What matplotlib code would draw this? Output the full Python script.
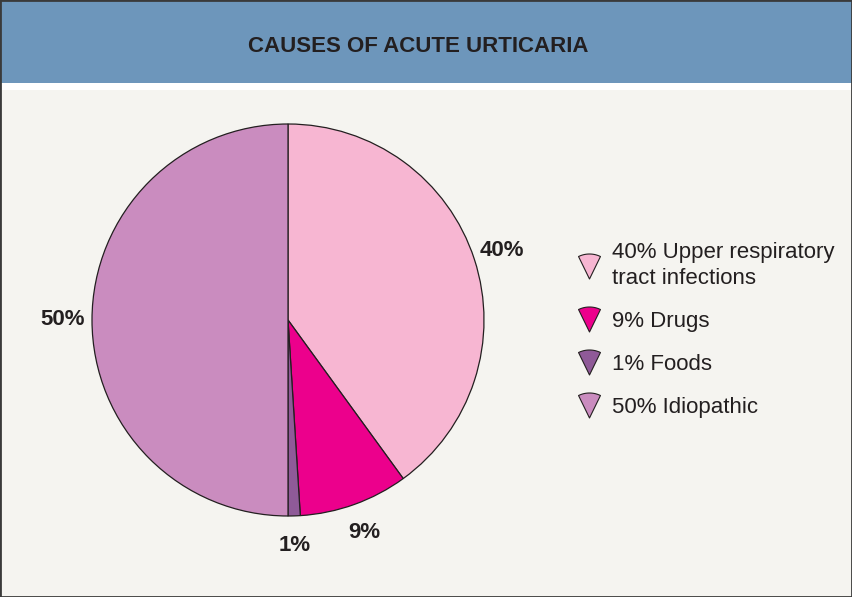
import numpy as np
import matplotlib
matplotlib.use("Agg")
import matplotlib.pyplot as plt
from matplotlib.path import Path
from matplotlib.lines import Line2D
from matplotlib.patches import Rectangle

plt.rcParams['font.family'] = ['Liberation Sans', 'DejaVu Sans']

title = "CAUSES OF ACUTE URTICARIA"
categories = ["Upper respiratory\ntract infections", "Drugs", "Foods", "Idiopathic"]
shares = [40, 9, 1, 50]
colors = ["#f7b6d2", "#ec008c", "#8f5a98", "#ca8cbf"]

fig = plt.figure(figsize=(8.52, 5.97), dpi=100)
fig.patch.set_facecolor("#f5f4f0")

# header band
fig.patches.append(Rectangle((0, 1 - 83 / 597), 1, 83 / 597, transform=fig.transFigure,
                             facecolor="#6d96bb", edgecolor="none", zorder=0))
fig.patches.append(Rectangle((0, 1 - 90 / 597), 1, 7 / 597, transform=fig.transFigure,
                             facecolor="white", edgecolor="none", zorder=0))
fig.patches.append(Rectangle((0, 0), 1, 1, transform=fig.transFigure,
                             facecolor="none", edgecolor="#3a3a3a", linewidth=2, zorder=5))
fig.text(418 / 852, 1 - 47 / 597, title, ha="center", va="center",
         fontsize=16, fontweight="bold", color="#231f20")

# pie: centre (288, 320) px, radius 196 px
cx, cy, r = 288, 597 - 320, 196
ax = fig.add_axes([(cx - r) / 852, (cy - r) / 597, 2 * r / 852, 2 * r / 597])
wedges, texts, autotexts = ax.pie(
    shares, colors=colors, startangle=90, counterclock=False,
    autopct="%1.0f%%", pctdistance=1.15,
    wedgeprops=dict(edgecolor="#231f20", linewidth=0.9),
    textprops=dict(fontsize=16, fontweight="bold", color="#231f20"))
ax.set_xlim(-1, 1)
ax.set_ylim(-1, 1)
ax.set_aspect("auto")

# legend with small wedge markers
t = np.radians(np.linspace(64, 116, 20))
verts = np.column_stack([np.cos(t), np.sin(t) - 0.5])
verts = np.vstack([verts, [[0, -0.5], [np.cos(t[0]), np.sin(t[0]) - 0.5]]])
codes = [Path.MOVETO] + [Path.LINETO] * (len(verts) - 2) + [Path.CLOSEPOLY]
wedge_marker = Path(verts, codes)

handles = [Line2D([], [], linestyle="none", marker=wedge_marker, markersize=18,
                  markerfacecolor=c, markeredgecolor="#231f20", markeredgewidth=0.8)
           for c in colors]
labels = [f"{s}% {c}" for s, c in zip(shares, categories)]
leg = fig.legend(handles, labels, loc="center left", bbox_to_anchor=(578 / 852, 1 - 330 / 597),
                 frameon=False, fontsize=16, handlelength=1.0, handletextpad=0.55,
                 labelspacing=0.98, borderpad=0, borderaxespad=0, labelcolor="#231f20")
for txt in leg.get_texts():
    txt.set_linespacing(1.3)

fig.savefig("out.png", dpi=100, facecolor=fig.get_facecolor())
